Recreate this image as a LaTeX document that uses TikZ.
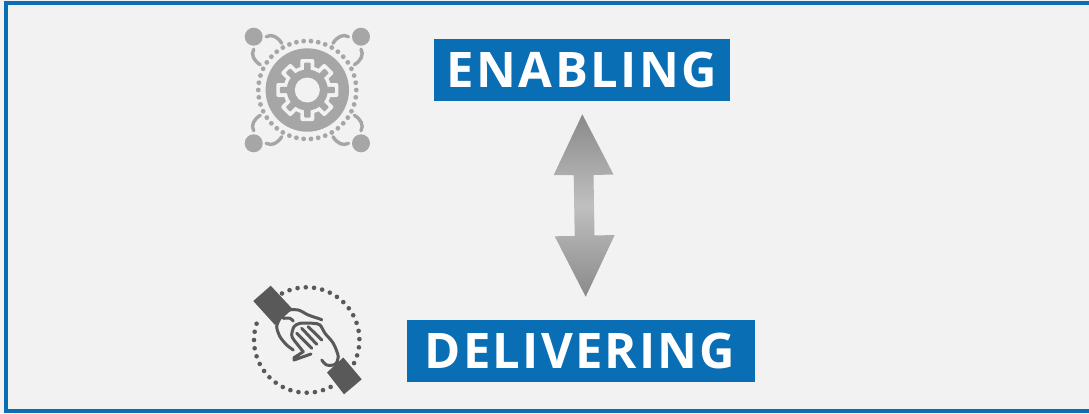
\documentclass[tikz,border=0pt]{standalone}
\usepackage{fontspec}
\setmainfont{Open Sans}
\definecolor{framebl}{HTML}{0A6EB4}
\definecolor{panelgr}{HTML}{F2F2F2}
\definecolor{icongr}{HTML}{A6A6A6}
\definecolor{handgr}{HTML}{595959}
\tikzset{
  titlebox/.style={fill=framebl,text=white,font=\bfseries\fontsize{49}{49}\selectfont,inner sep=0pt,anchor=center},
  handline/.style={draw=handgr,line width=3pt,line cap=round,line join=round},
  tiparc/.style={draw=icongr,line width=3.4pt,line cap=round}
}
\begin{document}
\begin{tikzpicture}[x=1pt,y=-1pt]
\useasboundingbox (0,0) rectangle (1089,413);
\clip (0,0) rectangle (1089,413);
\fill[panelgr] (0,0) rectangle (1089,413);
\draw[framebl,line width=3.8pt] (6.3,3) rectangle (1100,411.2);
% titles
\node[titlebox,minimum width=296pt,minimum height=62pt] (enabling) at (582,70) {\addfontfeature{LetterSpace=5}ENABLING};
\node[titlebox,minimum width=348pt,minimum height=62pt] (delivering) at (581,351) {\hspace{-2pt}\addfontfeature{LetterSpace=4.5}DELIVERING};
% double arrow
\shade[top color=black!46,bottom color=black!46,middle color=black!25]
  (582.3,114.3) -- (613.5,174.5) -- (593.5,175) -- (594.5,235.5) -- (614.7,235) -- (585.7,296.7)
  -- (554.7,236.3) -- (574.7,236) -- (573.7,175) -- (553.7,175) -- cycle;
% gear icon
\coordinate (gearc) at (307.3,90);
\fill[icongr] (gearc) circle (41.7);
\foreach \i in {0,...,41} \fill[icongr] ([shift={(\i*360/42:49)}]gearc) circle (2.4);
\begin{scope}[shift={(gearc)}]
  \fill[panelgr] (0,0) circle (24);
  \foreach \a in {0,45,...,315}
    \fill[panelgr,rounded corners=2pt,rotate=\a] (18,-7) rectangle (31,7);
  \fill[icongr] (0,0) circle (20.5);
  \foreach \a in {0,45,...,315}
    \fill[icongr,rounded corners=1pt,rotate=\a] (18,-3.2) rectangle (27.5,3.2);
  \fill[panelgr] (0,0) circle (12.5);
\end{scope}
\foreach \x/\y/\sx/\sy in {253.7/36.7/1/1,361/36.7/-1/1,253.7/143.3/1/-1,361/143.3/-1/-1}{
  \fill[icongr] (\x,\y) circle (9);
  \begin{scope}[shift={(\x,\y)},xscale=\sx,yscale=\sy]
    \draw[tiparc] (12.5,0) .. controls (18,-3) and (24,0) .. (28,6.6);
    \draw[tiparc] (0,12.5) .. controls (-3,18) and (0,24) .. (6.6,28);
  \end{scope}
}
% handshake icon
\coordinate (handc) at (306.7,340);
\foreach \a in {-118,-109,...,27,63,72,...,205} \fill[handgr] ([shift={(\a:52.7)}]handc) circle (2.3);
\fill[handgr] (253.3,301) -- (270.7,285.7) -- (292.5,309) -- (275,325) -- cycle;
\fill[handgr] (327,372.5) -- (343.3,357.5) -- (361.7,379.3) -- (344,394.3) -- cycle;
\draw[handline] plot[smooth] coordinates {(286.7,310) (298.3,310) (308.3,315) (320,319) (321.7,320)};
\draw[handline] plot[smooth] coordinates {(280,318.3) (276.7,326.7) (280,336.7) (286.7,345) (293.3,350)};
\draw[handline] plot[smooth] coordinates {(283.3,318.3) (290,318.3) (293.3,321)};
\draw[handline] plot[smooth] coordinates {(321.7,360) (326.7,365) (335,364.3) (338.3,356.7) (333.3,343.3) (325,333.3) (320,325) (313.3,323.3) (300,323.3) (294,326.7) (291.7,335) (294,340) (303.3,351.7)};
\draw[handline] (303.3,351.7) -- (294,357.7) -- (294,360) -- (303.3,356.7) -- (311,354);
\draw[handline] (296.7,333.3) -- (311.7,348.3);
\draw[handline] (301.7,328.3) -- (316.7,344.3);
\draw[handline] (308.3,326.7) -- (321.7,340);
\end{tikzpicture}
\end{document}
